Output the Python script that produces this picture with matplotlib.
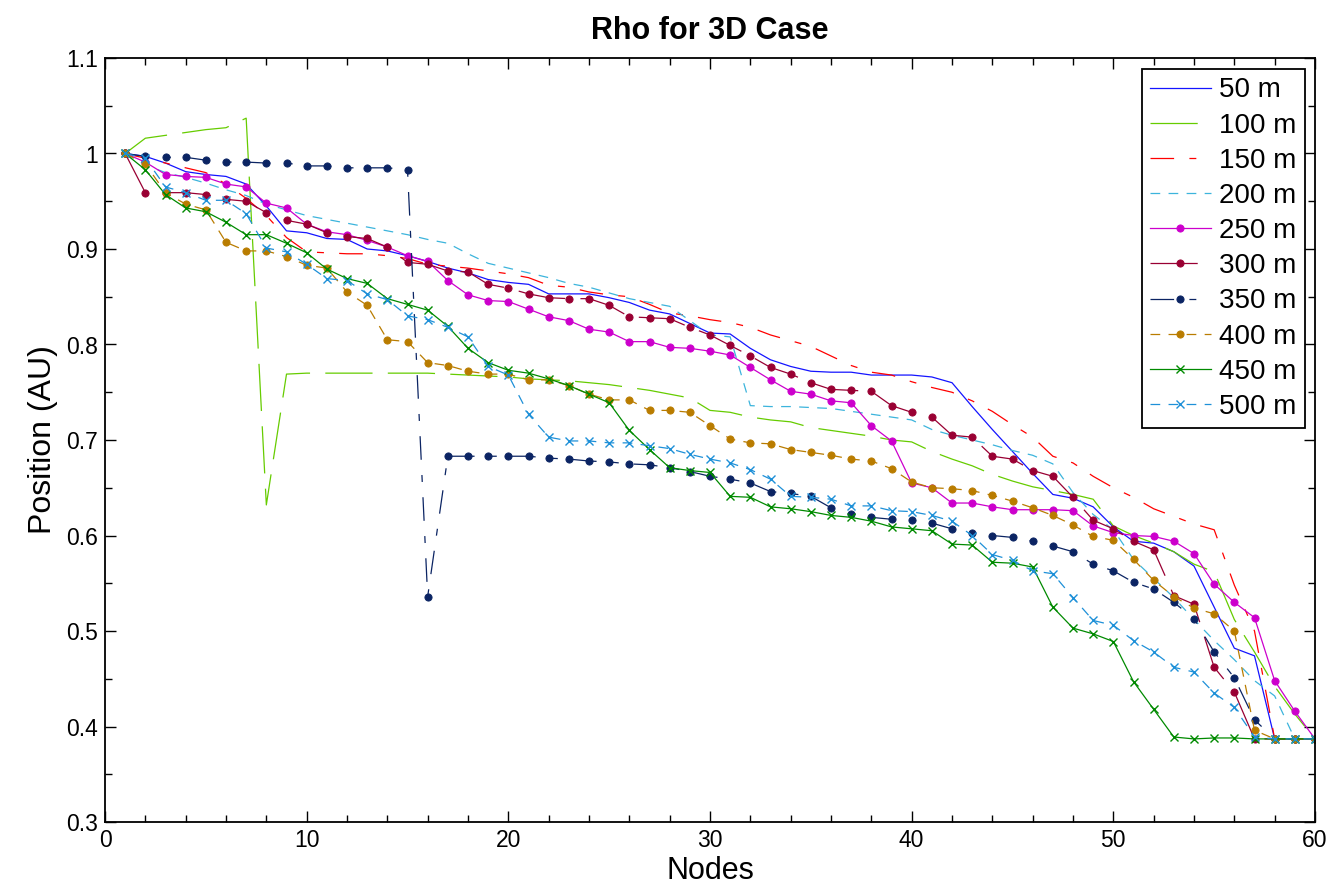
import matplotlib
matplotlib.use("Agg")
import matplotlib.pyplot as plt
from matplotlib.ticker import MultipleLocator, FixedLocator

plt.rcParams['font.family'] = ['Liberation Sans', 'DejaVu Sans']
plt.rcParams['lines.scale_dashes'] = False

nodes = list(range(1, 61))

s50 = [1.000, 0.997, 0.990, 0.981, 0.978, 0.976, 0.968, 0.945, 0.919, 0.917,
       0.911, 0.910, 0.900, 0.898, 0.893, 0.887, 0.880, 0.875, 0.868, 0.865,
       0.863, 0.853, 0.853, 0.853, 0.849, 0.844, 0.836, 0.832, 0.822, 0.812,
       0.811, 0.796, 0.784, 0.777, 0.772, 0.771, 0.771, 0.768, 0.768, 0.768,
       0.766, 0.760, 0.735, 0.711, 0.688, 0.665, 0.643, 0.639, 0.630, 0.609,
       0.594, 0.592, 0.583, 0.568, 0.525, 0.482, 0.474, 0.387, 0.387, 0.387]
s100 = [1.000, 1.016, 1.019, 1.022, 1.025, 1.027, 1.037, 0.632, 0.769, 0.770,
        0.770, 0.770, 0.770, 0.770, 0.770, 0.770, 0.769, 0.768, 0.767, 0.766,
        0.764, 0.763, 0.762, 0.760, 0.758, 0.755, 0.752, 0.748, 0.744, 0.731,
        0.729, 0.724, 0.721, 0.719, 0.713, 0.710, 0.707, 0.704, 0.700, 0.698,
        0.688, 0.680, 0.673, 0.664, 0.657, 0.651, 0.647, 0.643, 0.638, 0.610,
        0.600, 0.592, 0.583, 0.570, 0.562, 0.512, 0.478, 0.442, 0.413, 0.387]
s150 = [1.000, 0.995, 0.990, 0.985, 0.980, 0.968, 0.953, 0.935, 0.912, 0.897,
        0.896, 0.895, 0.895, 0.893, 0.890, 0.884, 0.882, 0.880, 0.877, 0.874,
        0.870, 0.862, 0.860, 0.855, 0.852, 0.850, 0.842, 0.833, 0.830, 0.826,
        0.823, 0.818, 0.810, 0.804, 0.798, 0.788, 0.778, 0.771, 0.768, 0.761,
        0.755, 0.750, 0.741, 0.730, 0.716, 0.703, 0.683, 0.676, 0.662, 0.650,
        0.640, 0.628, 0.620, 0.612, 0.606, 0.548, 0.500, 0.387, 0.387, 0.387]
s200 = [1.000, 0.988, 0.980, 0.975, 0.969, 0.962, 0.956, 0.947, 0.941, 0.935,
        0.931, 0.927, 0.923, 0.919, 0.915, 0.910, 0.906, 0.895, 0.885, 0.880,
        0.875, 0.870, 0.864, 0.860, 0.854, 0.848, 0.844, 0.840, 0.825, 0.810,
        0.808, 0.736, 0.735, 0.735, 0.734, 0.733, 0.730, 0.727, 0.724, 0.721,
        0.711, 0.705, 0.700, 0.695, 0.689, 0.684, 0.675, 0.645, 0.622, 0.606,
        0.575, 0.555, 0.535, 0.512, 0.490, 0.470, 0.448, 0.432, 0.387, 0.387]
s250 = [1.000, 0.991, 0.978, 0.976, 0.975, 0.968, 0.965, 0.948, 0.943, 0.926,
        0.918, 0.915, 0.909, 0.902, 0.893, 0.887, 0.867, 0.852, 0.846, 0.845,
        0.837, 0.829, 0.825, 0.816, 0.813, 0.803, 0.803, 0.797, 0.796, 0.793,
        0.789, 0.776, 0.763, 0.751, 0.748, 0.741, 0.739, 0.715, 0.699, 0.655,
        0.650, 0.634, 0.634, 0.630, 0.627, 0.627, 0.627, 0.626, 0.610, 0.603,
        0.600, 0.599, 0.594, 0.581, 0.549, 0.530, 0.514, 0.448, 0.416, 0.387]
s300 = [1.000, 0.959, 0.959, 0.959, 0.957, 0.952, 0.950, 0.938, 0.930, 0.926,
        0.917, 0.913, 0.911, 0.902, 0.886, 0.884, 0.877, 0.876, 0.863, 0.859,
        0.853, 0.849, 0.848, 0.848, 0.841, 0.829, 0.828, 0.827, 0.818, 0.810,
        0.799, 0.788, 0.776, 0.769, 0.760, 0.753, 0.752, 0.751, 0.736, 0.729,
        0.724, 0.705, 0.703, 0.683, 0.680, 0.668, 0.662, 0.640, 0.616, 0.607,
        0.594, 0.585, 0.537, 0.528, 0.462, 0.436, 0.387, 0.387, 0.387, 0.387]
s350 = [1.000, 0.997, 0.996, 0.996, 0.993, 0.991, 0.991, 0.990, 0.990, 0.987,
        0.987, 0.985, 0.985, 0.985, 0.983, 0.536, 0.683, 0.683, 0.683, 0.683,
        0.683, 0.681, 0.680, 0.678, 0.677, 0.675, 0.674, 0.671, 0.667, 0.662,
        0.659, 0.655, 0.646, 0.644, 0.641, 0.629, 0.623, 0.619, 0.617, 0.616,
        0.613, 0.607, 0.603, 0.600, 0.598, 0.594, 0.589, 0.583, 0.570, 0.563,
        0.551, 0.544, 0.530, 0.513, 0.478, 0.451, 0.407, 0.387, 0.387, 0.387]
s400 = [1.000, 0.989, 0.959, 0.947, 0.941, 0.907, 0.898, 0.898, 0.892, 0.883,
        0.880, 0.855, 0.841, 0.805, 0.803, 0.781, 0.778, 0.772, 0.769, 0.769,
        0.763, 0.763, 0.757, 0.748, 0.742, 0.742, 0.731, 0.731, 0.729, 0.715,
        0.701, 0.697, 0.696, 0.690, 0.687, 0.684, 0.680, 0.678, 0.670, 0.656,
        0.650, 0.649, 0.647, 0.642, 0.636, 0.629, 0.621, 0.611, 0.599, 0.595,
        0.575, 0.553, 0.536, 0.524, 0.518, 0.500, 0.396, 0.387, 0.387, 0.387]
s450 = [1.000, 0.983, 0.957, 0.943, 0.939, 0.928, 0.915, 0.915, 0.906, 0.896,
        0.879, 0.869, 0.864, 0.848, 0.842, 0.836, 0.819, 0.796, 0.781, 0.773,
        0.770, 0.764, 0.757, 0.748, 0.739, 0.710, 0.690, 0.671, 0.668, 0.666,
        0.641, 0.640, 0.630, 0.628, 0.625, 0.621, 0.619, 0.615, 0.609, 0.607,
        0.605, 0.591, 0.590, 0.572, 0.571, 0.567, 0.525, 0.503, 0.497, 0.489,
        0.447, 0.418, 0.389, 0.387, 0.388, 0.388, 0.387, 0.387, 0.387, 0.387]
s500 = [1.000, 0.995, 0.965, 0.959, 0.951, 0.951, 0.937, 0.901, 0.897, 0.884,
        0.869, 0.867, 0.853, 0.847, 0.830, 0.826, 0.818, 0.808, 0.777, 0.768,
        0.727, 0.703, 0.699, 0.699, 0.697, 0.697, 0.694, 0.691, 0.685, 0.680,
        0.676, 0.669, 0.659, 0.641, 0.640, 0.638, 0.631, 0.631, 0.626, 0.625,
        0.621, 0.615, 0.600, 0.580, 0.574, 0.563, 0.560, 0.535, 0.511, 0.506,
        0.490, 0.478, 0.462, 0.457, 0.435, 0.420, 0.389, 0.387, 0.387, 0.387]

labels = ['50 m', '100 m', '150 m', '200 m', '250 m',
          '300 m', '350 m', '400 m', '450 m', '500 m']
series = [s50, s100, s150, s200, s250, s300, s350, s400, s450, s500]

xticks = [0, 10, 20, 30, 40, 50, 60]
yticks = [0.3, 0.4, 0.5, 0.6, 0.7, 0.8, 0.9, 1.0, 1.1]
yticklabels = ['0.3', '0.4', '0.5', '0.6', '0.7', '0.8', '0.9', '1', '1.1']

longdash = (0, (34, 11))
dashdot = (0, (17, 11, 5, 11))
dashed = (0, (7, 6))
styles = [
    dict(color='#1414ff', ls='-', marker=None),
    dict(color='#66cc00', ls=longdash, marker=None),
    dict(color='#ff0000', ls=dashdot, marker=None),
    dict(color='#3cb4dc', ls=dashed, marker=None),
    dict(color='#cc00cc', ls='-', marker='o'),
    dict(color='#990033', ls=longdash, marker='o'),
    dict(color='#0b2463', ls=dashdot, marker='o'),
    dict(color='#b97c00', ls=dashed, marker='o'),
    dict(color='#008a00', ls='-', marker='x'),
    dict(color='#1e90d8', ls=dashed, marker='x'),
]

fig = plt.figure(figsize=(13.35, 8.96), dpi=100)
ax = fig.add_axes([105/1335, 1 - 822/896, (1315-105)/1335, (822-58)/896])

for vals, lab, st in zip(series, labels, styles):
    m = st['marker']
    ax.plot(nodes, vals, linestyle=st['ls'], color=st['color'], lw=0.9,
            marker=m, markersize=(5.2 if m == 'o' else 5.5),
            markeredgewidth=(0.6 if m == 'o' else 1.0),
            markerfacecolor=st['color'], markeredgecolor=st['color'],
            label=lab)

ax.set_xlim(0, 60)
ax.set_ylim(0.3, 1.1)
ax.xaxis.set_major_locator(FixedLocator(xticks))
ax.yaxis.set_major_locator(FixedLocator(yticks))
ax.set_yticklabels(yticklabels)
ax.xaxis.set_minor_locator(MultipleLocator(2))
ax.yaxis.set_minor_locator(MultipleLocator(0.05))
ax.tick_params(which='both', direction='in', top=True, right=True,
               labelsize=16.5, width=1.0, pad=5)
ax.tick_params(which='major', length=8)
ax.tick_params(which='minor', length=5)
for sp in ax.spines.values():
    sp.set_linewidth(1.3)

ax.set_title('Rho for 3D Case', fontsize=22, fontweight='bold', pad=14)
ax.set_xlabel('Nodes', fontsize=22, labelpad=3)
ax.set_ylabel('Position (AU)', fontsize=23, labelpad=6)

leg = ax.legend(loc='upper right', bbox_to_anchor=(1305/1335, 1 - 69/896),
                bbox_transform=fig.transFigure, fontsize=20, frameon=True,
                fancybox=False, framealpha=1, edgecolor='black',
                handlelength=2.2, handletextpad=0.3, borderpad=0.3,
                labelspacing=0.33, borderaxespad=0)
leg.get_frame().set_linewidth(1.3)

fig.savefig('out.png', dpi=100)
